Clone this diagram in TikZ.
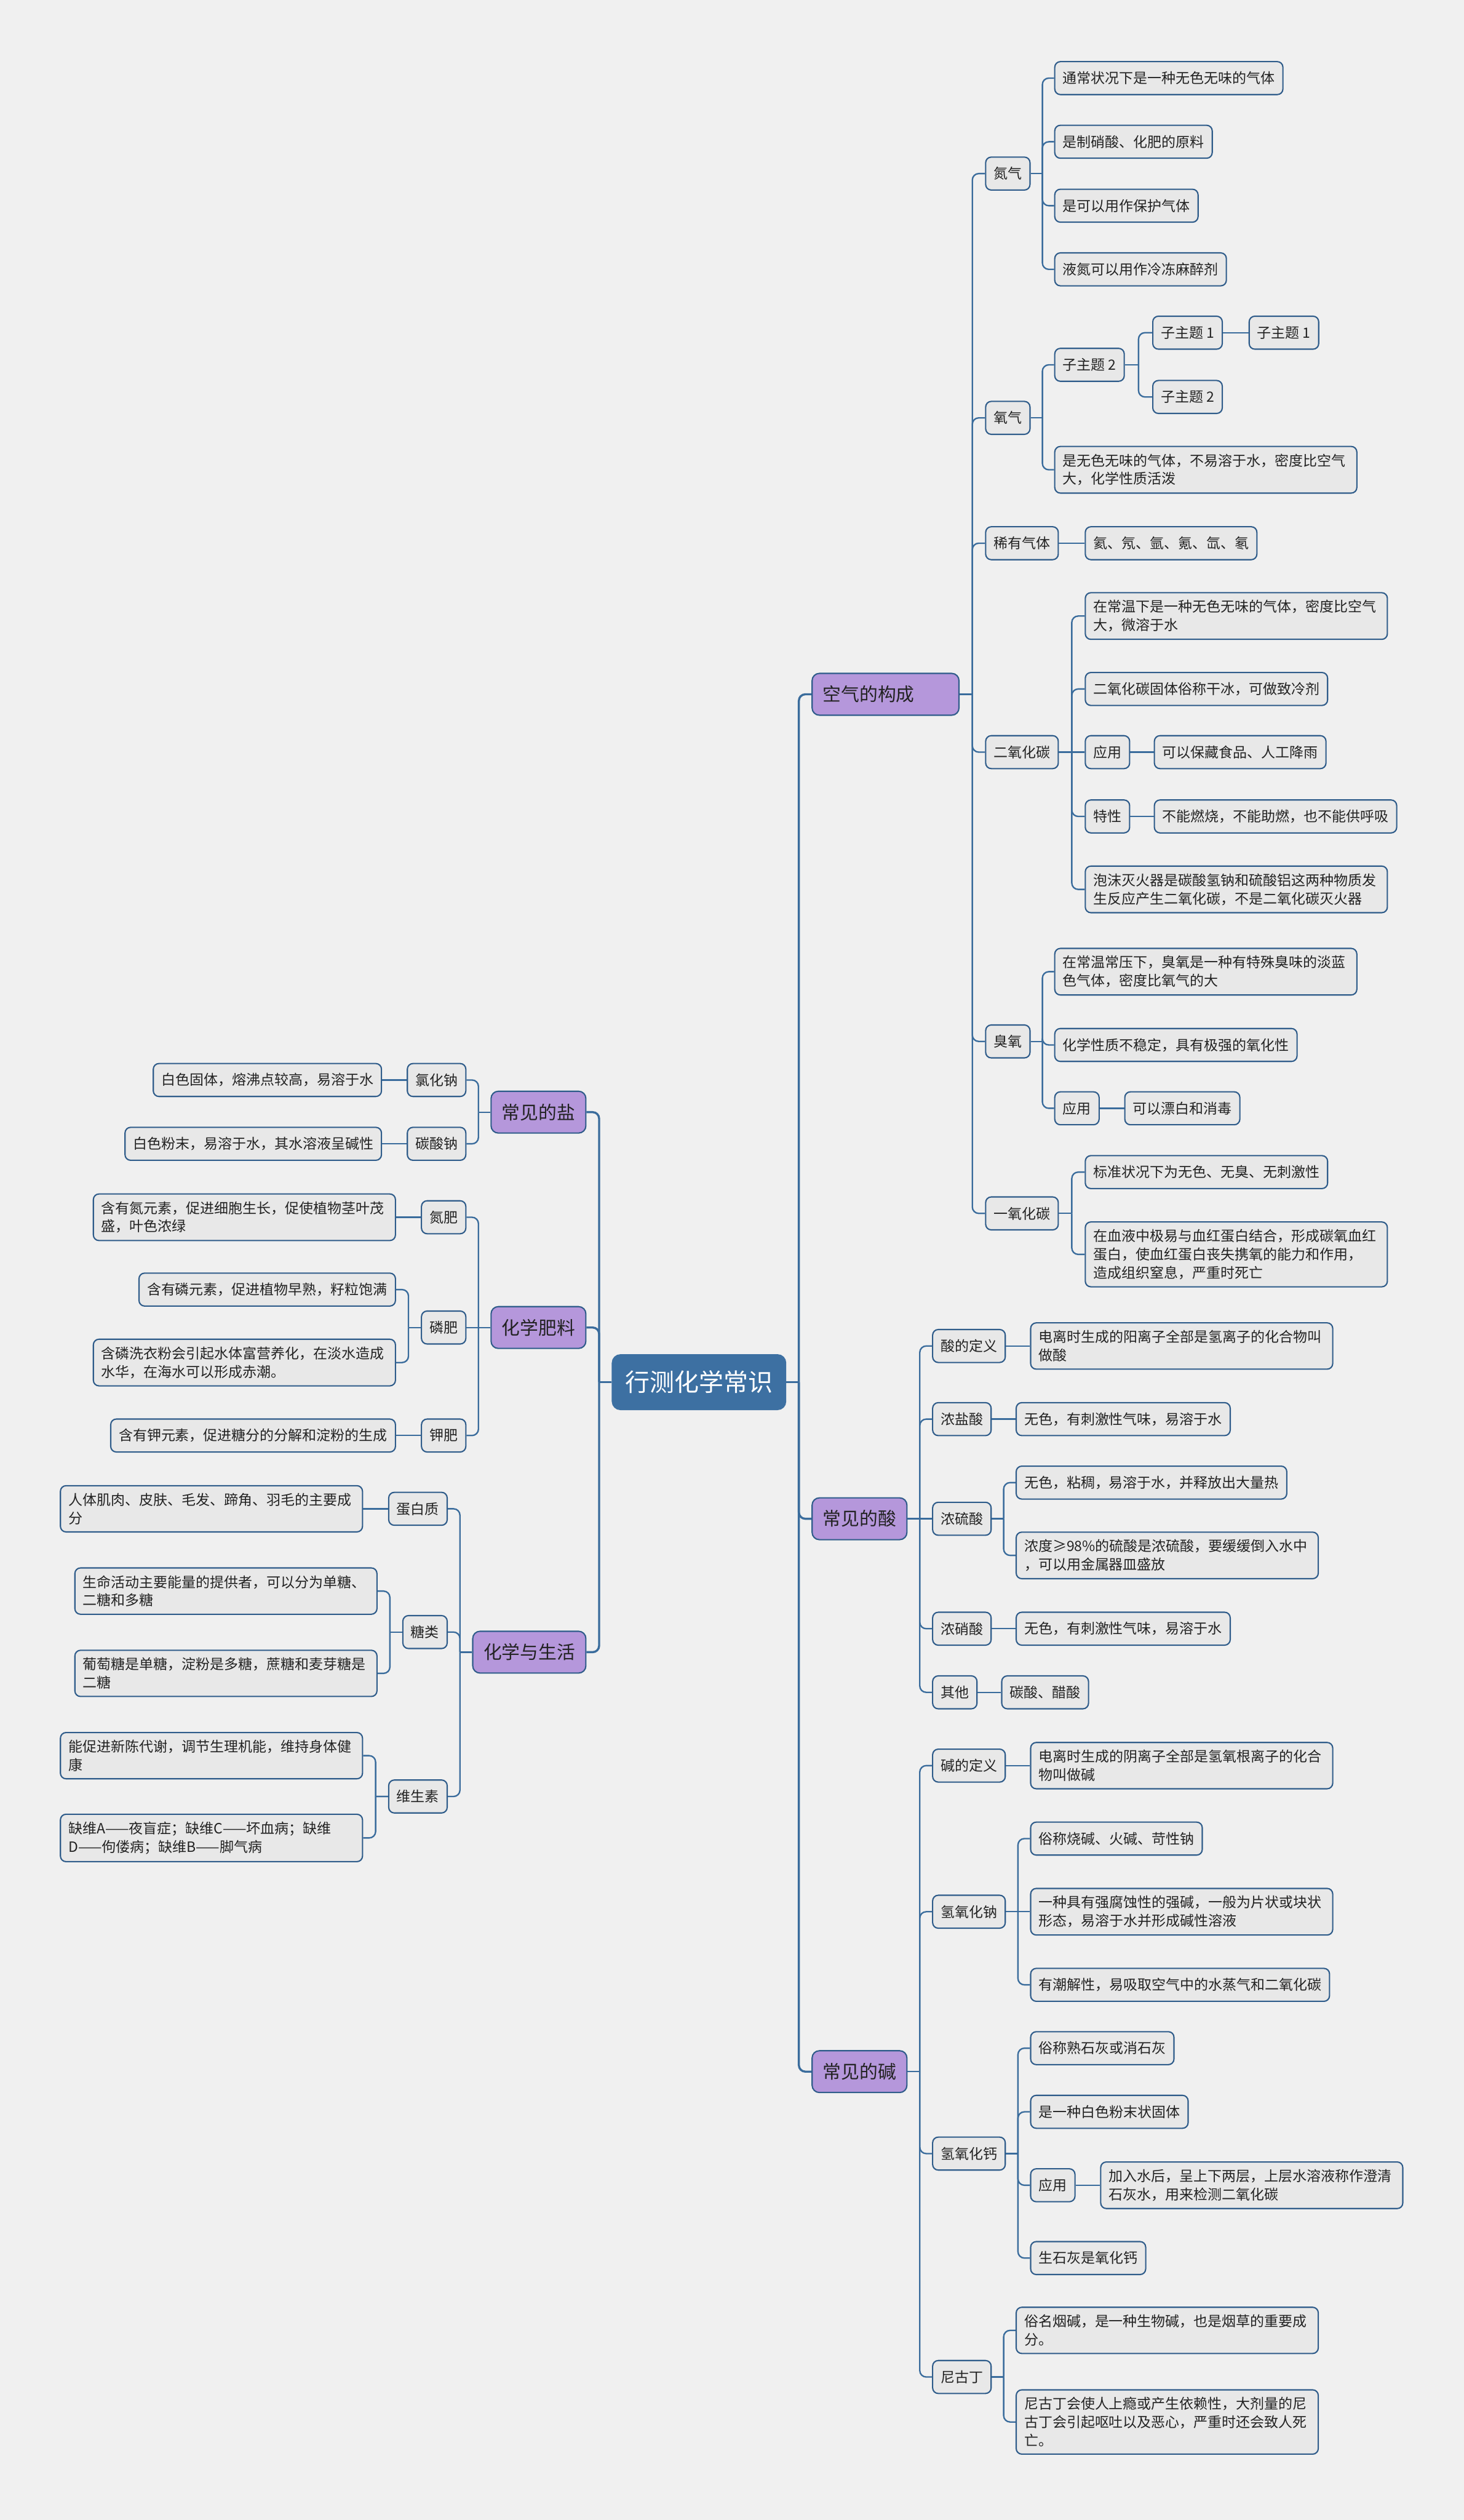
\documentclass[tikz,border=0pt]{standalone}
\usepackage{fontspec}
\setmainfont{Noto Sans CJK SC}
\usetikzlibrary{calc}

\definecolor{bgcol}{HTML}{F0F0F0}
\definecolor{leaffill}{HTML}{E8E8E8}
\definecolor{boxline}{HTML}{2F5C8A}
\definecolor{linecol}{HTML}{3A6C9C}
\definecolor{rootfill}{HTML}{3D70A2}
\definecolor{mainfill}{HTML}{B597DB}
\definecolor{textcol}{HTML}{222222}

\tikzset{
  box/.style={draw=boxline, line width=0.8pt, fill=leaffill, rounded corners=3.5pt,
    inner xsep=5pt, inner ysep=4.6pt, minimum height=20.5pt, align=left,
    text=textcol, font=\fontsize{8.8}{11.4}\selectfont},
  rbox/.style={box, anchor=west},
  lbox/.style={box, anchor=east},
  wide/.style={text width=178pt},
  main/.style={box, fill=mainfill, rounded corners=4.5pt, inner xsep=6.7pt,
    minimum height=26pt, font=\fontsize{11.4}{14}\selectfont},
  root/.style={box, fill=rootfill, draw=rootfill, text=white, rounded corners=5pt,
    inner xsep=8pt, minimum height=34pt, font=\fontsize{15.3}{18}\selectfont},
  link/.style={draw=linecol, line width=0.9pt},
  mainlink/.style={draw=linecol, line width=1.3pt}
}

% parent on the left, child on the right
\newcommand{\toright}[3][link]{%
  \draw[#1] (#2.east) -- ($(#2.east)!.5!(#2.east -| #3.west)$);
  \draw[#1, rounded corners=4pt] ($(#2.east)!.5!(#2.east -| #3.west)$) |- (#3.west);}
% parent on the right, child on the left
\newcommand{\toleft}[3][link]{%
  \draw[#1] (#2.west) -- ($(#2.west)!.5!(#2.west -| #3.east)$);
  \draw[#1, rounded corners=4pt] ($(#2.west)!.5!(#2.west -| #3.east)$) |- (#3.east);}
% child level with its parent
\newcommand{\flatright}[2]{\draw[link] (#1.east) -- (#2.west);}
\newcommand{\flatleft}[2]{\draw[link] (#1.west) -- (#2.east);}

\begin{document}
\begin{tikzpicture}[x=1pt, y=-1pt]
    \fill[bgcol] (0,0) rectangle (911,1568);
    \useasboundingbox (0,0) rectangle (911,1568);
    % The centre and the six topics.
        \node[root] (root) at (435,860) {行测化学常识};
        \node[main, anchor=west, text width=78pt] (air) at (505,432) {空气的构成};
        \node[main, anchor=west] (acid) at (505,945) {常见的酸};
        \node[main, anchor=west] (base) at (505,1289) {常见的碱};
        \node[main, anchor=east] (salt) at (365,692) {常见的盐};
        \node[main, anchor=east] (fert) at (365,826) {化学肥料};
        \node[main, anchor=east] (life) at (365,1028) {化学与生活};
    % Air.
        \node[rbox] (n2) at (613,108) {氮气};
        \node[rbox] (o2) at (613,260) {氧气};
        \node[rbox] (rare) at (613,338) {稀有气体};
        \node[rbox] (co2) at (613,468) {二氧化碳};
        \node[rbox] (o3) at (613,648) {臭氧};
        \node[rbox] (co) at (613,755) {一氧化碳};
        \node[rbox] (n2a) at (656,48.6) {通常状况下是一种无色无味的气体};
        \node[rbox] (n2b) at (656,88.2) {是制硝酸、化肥的原料};
        \node[rbox] (n2c) at (656,128) {是可以用作保护气体};
        \node[rbox] (n2d) at (656,167.6) {液氮可以用作冷冻麻醉剂};
        \node[rbox] (o2t) at (656,227) {子主题 2};
        \node[rbox] (o2t1) at (717,207) {子主题 1};
        \node[rbox] (o2t1a) at (777,207) {子主题 1};
        \node[rbox] (o2t2) at (717,247) {子主题 2};
        \node[rbox, wide] (o2a) at (656,292.3) {是无色无味的气体，不易溶于水，密度比空气\\大，化学性质活泼};
        \node[rbox] (rarea) at (675,338) {氦、氖、氩、氪、氙、氡};
        \node[rbox, wide] (co2a) at (675,383.3) {在常温下是一种无色无味的气体，密度比空气\\大，微溶于水};
        \node[rbox] (co2b) at (675,428.7) {二氧化碳固体俗称干冰，可做致冷剂};
        \node[rbox] (co2u) at (675,468) {应用};
        \node[rbox] (co2ua) at (718,468) {可以保藏食品、人工降雨};
        \node[rbox] (co2p) at (675,508) {特性};
        \node[rbox] (co2pa) at (718,508) {不能燃烧，不能助燃，也不能供呼吸};
        \node[rbox, wide] (co2e) at (675,553.4) {泡沫灭火器是碳酸氢钠和硫酸铝这两种物质发\\生反应产生二氧化碳，不是二氧化碳灭火器};
        \node[rbox, wide] (o3a) at (656,604.6) {在常温常压下，臭氧是一种有特殊臭味的淡蓝\\色气体，密度比氧气的大};
        \node[rbox] (o3b) at (656,650.2) {化学性质不稳定，具有极强的氧化性};
        \node[rbox] (o3u) at (656,689.6) {应用};
        \node[rbox] (o3ua) at (699.6,689.6) {可以漂白和消毒};
        \node[rbox] (coa) at (675,729.3) {标准状况下为无色、无臭、无刺激性};
        \node[rbox, wide] (cob) at (675,780.5) {在血液中极易与血红蛋白结合，形成碳氧血红\\蛋白，使血红蛋白丧失携氧的能力和作用，\\造成组织窒息，严重时死亡};
    % Acids.
        \node[rbox] (acd) at (580,837.5) {酸的定义};
        \node[rbox, wide] (acda) at (641,837.5) {电离时生成的阳离子全部是氢离子的化合物叫\\做酸};
        \node[rbox] (hcl) at (580,883) {浓盐酸};
        \node[rbox] (hcla) at (632,883) {无色，有刺激性气味，易溶于水};
        \node[rbox] (hs) at (580,945) {浓硫酸};
        \node[rbox] (hsa) at (632,922.5) {无色，粘稠，易溶于水，并释放出大量热};
        \node[rbox, wide] (hsb) at (632,967.8) {浓度≥98\%的硫酸是浓硫酸，要缓缓倒入水中\\，可以用金属器皿盛放};
        \node[rbox] (hno) at (580,1013.4) {浓硝酸};
        \node[rbox] (hnoa) at (632,1013.4) {无色，有刺激性气味，易溶于水};
        \node[rbox] (oth) at (580,1053) {其他};
        \node[rbox] (otha) at (623,1053) {碳酸、醋酸};
    % Bases.
        \node[rbox] (bd) at (580,1098.6) {碱的定义};
        \node[rbox, wide] (bda) at (641,1098.6) {电离时生成的阴离子全部是氢氧根离子的化合\\物叫做碱};
        \node[rbox] (naoh) at (580,1189.5) {氢氧化钠};
        \node[rbox] (naoha) at (641,1144) {俗称烧碱、火碱、苛性钠};
        \node[rbox, wide] (naohb) at (641,1189.5) {一种具有强腐蚀性的强碱，一般为片状或块状\\形态，易溶于水并形成碱性溶液};
        \node[rbox] (naohc) at (641,1235) {有潮解性，易吸取空气中的水蒸气和二氧化碳};
        \node[rbox] (caoh) at (580,1340) {氢氧化钙};
        \node[rbox] (caoha) at (641,1274.4) {俗称熟石灰或消石灰};
        \node[rbox] (caohb) at (641,1314) {是一种白色粉末状固体};
        \node[rbox] (cau) at (641,1359.7) {应用};
        \node[rbox, wide] (caua) at (684.6,1359.7) {加入水后，呈上下两层，上层水溶液称作澄清\\石灰水，用来检测二氧化碳};
        \node[rbox] (caohc) at (641,1405) {生石灰是氧化钙};
        \node[rbox] (nic) at (580,1479) {尼古丁};
        \node[rbox, wide] (nica) at (632,1450) {俗名烟碱，是一种生物碱，也是烟草的重要成\\分。};
        \node[rbox, wide] (nicb) at (632,1507) {尼古丁会使人上瘾或产生依赖性，大剂量的尼\\古丁会引起呕吐以及恶心，严重时还会致人死\\亡。};
    % Salts.
        \node[lbox] (nacl) at (290.3,672) {氯化钠};
        \node[lbox] (nacla) at (237.8,672) {白色固体，熔沸点较高，易溶于水};
        \node[lbox] (naco) at (290.3,711.7) {碳酸钠};
        \node[lbox] (nacoa) at (237.8,711.7) {白色粉末，易溶于水，其水溶液呈碱性};
    % Fertilizers.
        \node[lbox] (nf) at (290.3,757.4) {氮肥};
        \node[lbox, wide] (nfa) at (246.5,757.4) {含有氮元素，促进细胞生长，促使植物茎叶茂\\盛，叶色浓绿};
        \node[lbox] (pf) at (290.3,826) {磷肥};
        \node[lbox] (pfa) at (246.5,802.4) {含有磷元素，促进植物早熟，籽粒饱满};
        \node[lbox, wide] (pfb) at (246.5,847.8) {含磷洗衣粉会引起水体富营养化，在淡水造成\\水华，在海水可以形成赤潮。};
        \node[lbox] (kf) at (290.3,893.2) {钾肥};
        \node[lbox] (kfa) at (246.5,893.2) {含有钾元素，促进糖分的分解和淀粉的生成};
    % Chemistry and life.
        \node[lbox] (prot) at (278.7,938.8) {蛋白质};
        \node[lbox, wide] (prota) at (226,938.8) {人体肌肉、皮肤、毛发、蹄角、羽毛的主要成\\分};
        \node[lbox] (sug) at (278.7,1015.5) {糖类};
        \node[lbox, wide] (suga) at (235,990) {生命活动主要能量的提供者，可以分为单糖、\\二糖和多糖};
        \node[lbox, wide] (sugb) at (235,1041.2) {葡萄糖是单糖，淀粉是多糖，蔗糖和麦芽糖是\\二糖};
        \node[lbox] (vit) at (278.7,1117.8) {维生素};
        \node[lbox, wide] (vita) at (226,1092.4) {能促进新陈代谢，调节生理机能，维持身体健\\康};
        \node[lbox, wide] (vitb) at (226,1143.6) {缺维A——夜盲症；缺维C——坏血病；缺维\\D——佝偻病；缺维B——脚气病};
    % Below are the connectors.
        \toright[mainlink]{root}{air} \toright[mainlink]{root}{acid} \toright[mainlink]{root}{base}
        \toleft[mainlink]{root}{salt} \toleft[mainlink]{root}{fert} \toleft[mainlink]{root}{life}
        \toright{air}{n2} \toright{air}{o2} \toright{air}{rare} \toright{air}{co2} \toright{air}{o3} \toright{air}{co}
        \toright{n2}{n2a} \toright{n2}{n2b} \toright{n2}{n2c} \toright{n2}{n2d}
        \toright{o2}{o2t} \toright{o2}{o2a} \toright{o2t}{o2t1} \toright{o2t}{o2t2} \flatright{o2t1}{o2t1a}
        \flatright{rare}{rarea}
        \toright{co2}{co2a} \toright{co2}{co2b} \flatright{co2}{co2u} \toright{co2}{co2p} \toright{co2}{co2e}
        \flatright{co2u}{co2ua} \flatright{co2p}{co2pa}
        \toright{o3}{o3a} \toright{o3}{o3b} \toright{o3}{o3u} \flatright{o3u}{o3ua}
        \toright{co}{coa} \toright{co}{cob}
        \toright{acid}{acd} \toright{acid}{hcl} \flatright{acid}{hs} \toright{acid}{hno} \toright{acid}{oth}
        \flatright{acd}{acda} \flatright{hcl}{hcla} \toright{hs}{hsa} \toright{hs}{hsb} \flatright{hno}{hnoa} \flatright{oth}{otha}
        \toright{base}{bd} \toright{base}{naoh} \toright{base}{caoh} \toright{base}{nic}
        \flatright{bd}{bda} \toright{naoh}{naoha} \flatright{naoh}{naohb} \toright{naoh}{naohc}
        \toright{caoh}{caoha} \toright{caoh}{caohb} \toright{caoh}{cau} \toright{caoh}{caohc} \flatright{cau}{caua}
        \toright{nic}{nica} \toright{nic}{nicb}
        \toleft{salt}{nacl} \toleft{salt}{naco} \flatleft{nacl}{nacla} \flatleft{naco}{nacoa}
        \toleft{fert}{nf} \flatleft{fert}{pf} \toleft{fert}{kf}
        \flatleft{nf}{nfa} \toleft{pf}{pfa} \toleft{pf}{pfb} \flatleft{kf}{kfa}
        \toleft{life}{prot} \toleft{life}{sug} \toleft{life}{vit}
        \flatleft{prot}{prota} \toleft{sug}{suga} \toleft{sug}{sugb} \toleft{vit}{vita} \toleft{vit}{vitb}
\end{tikzpicture}
\end{document}
